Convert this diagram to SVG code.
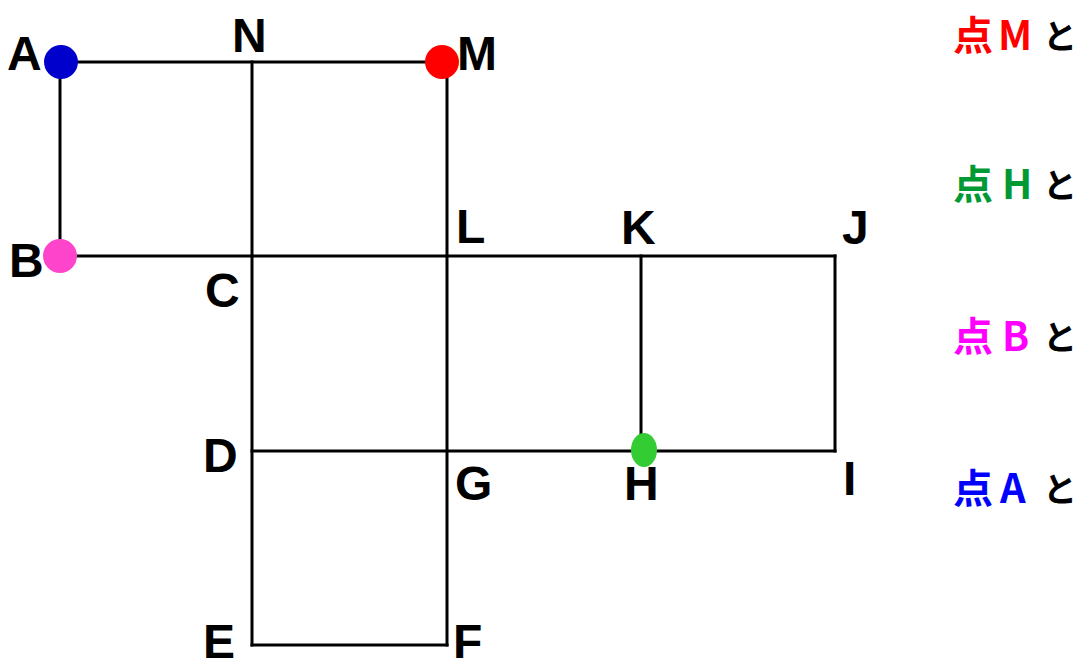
<svg xmlns="http://www.w3.org/2000/svg" width="1082" height="662" viewBox="0 0 1082 662">
<style>
.ln{stroke:#000;stroke-width:3;fill:none;stroke-linecap:square}
.lb{font-family:"Liberation Sans",Arial,sans-serif;font-weight:bold;font-size:48px;fill:#000}
.jp{font-family:"Noto Sans CJK JP","Noto Sans",sans-serif;font-weight:bold;font-size:40px}
.to{font-family:"Noto Sans CJK JP","Noto Sans",sans-serif;font-weight:bold;font-size:34px;fill:#000}
</style>
<rect width="1082" height="662" fill="#fff"/>
<g id="connectors">
<line class="ln" x1="60" y1="62" x2="447" y2="62"/>
<line class="ln" x1="60" y1="62" x2="60" y2="256"/>
<line class="ln" x1="60" y1="256" x2="835" y2="256"/>
<line class="ln" x1="252" y1="62" x2="252" y2="645"/>
<line class="ln" x1="447" y1="62" x2="447" y2="645"/>
<line class="ln" x1="641" y1="256" x2="641" y2="451"/>
<line class="ln" x1="835" y1="256" x2="835" y2="451"/>
<line class="ln" x1="252" y1="451" x2="835" y2="451"/>
<line class="ln" x1="252" y1="645" x2="447" y2="645"/>
</g>
<g id="node-A"><circle cx="61" cy="62" r="17" fill="#0000cc"/><text class="lb" x="7" y="70">A</text></g>
<g id="node-N"><text class="lb" x="232" y="52">N</text></g>
<g id="node-M"><circle cx="442" cy="62" r="17" fill="#ff0000"/><text class="lb" x="457" y="70">M</text></g>
<g id="node-B"><circle cx="60" cy="256" r="17" fill="#ff44cc"/><text class="lb" x="9" y="277">B</text></g>
<g id="node-C"><text class="lb" x="205" y="307">C</text></g>
<g id="node-L"><text class="lb" x="456" y="243">L</text></g>
<g id="node-K"><text class="lb" x="621" y="244">K</text></g>
<g id="node-J"><text class="lb" x="842" y="244">J</text></g>
<g id="node-D"><text class="lb" x="203" y="472">D</text></g>
<g id="node-G"><text class="lb" x="455" y="500">G</text></g>
<g id="node-H"><ellipse cx="644" cy="450" rx="13" ry="17" fill="#33cc33"/><text class="lb" x="624" y="500">H</text></g>
<g id="node-I"><text class="lb" x="843" y="495">I</text></g>
<g id="node-E"><text class="lb" x="203" y="658">E</text></g>
<g id="node-F"><text class="lb" x="453" y="658">F</text></g>
<g id="legend">
<text class="jp" x="953" y="50" fill="#ff0000">点</text><text class="jp" x="998" y="50" fill="#ff0000">M</text><text class="to" x="1043" y="49">と</text>
<text class="jp" x="953" y="199" fill="#009933">点</text><text class="jp" x="1002" y="199" fill="#009933">H</text><text class="to" x="1043" y="198">と</text>
<text class="jp" x="953" y="351" fill="#ff00ff">点</text><text class="jp" x="1002" y="351" fill="#ff00ff">B</text><text class="to" x="1043" y="350">と</text>
<text class="jp" x="953" y="503" fill="#0000ff">点</text><text class="jp" x="1000" y="503" fill="#0000ff">A</text><text class="to" x="1043" y="502">と</text>
</g>
</svg>
